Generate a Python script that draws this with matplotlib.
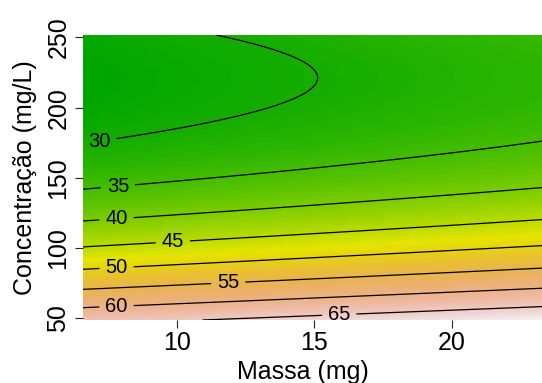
import numpy as np
import matplotlib
matplotlib.use("Agg")
import matplotlib.pyplot as plt
from matplotlib.colors import ListedColormap, hsv_to_rgb

plt.rcParams['font.family'] = ['Liberation Sans', 'DejaVu Sans']

# Modelo de segunda ordem em unidades codificadas:
# xc = (massa - 15) / 5 ; yc = (conc - 150) / 50
b0 = 36.16
b_massa, b_conc = 1.56, -8.71
b_massa2, b_conc2, b_inter = -0.006, 3.06, -0.015

massa_range = [6.577, 23.5]
conc_range = [48.86, 251.64]
contour_levels = [30, 35, 40, 45, 50, 55, 60, 65]
# posição aproximada dos rótulos das curvas (massa, conc)
label_pos = [(7.20, 173.4), (7.85, 143.7), (7.80, 120.0), (9.85, 103.9),
             (7.80, 85.6), (11.87, 74.5), (7.80, 57.6), (15.91, 52.4)]
massa_ticks = [10, 15, 20]
conc_ticks = [50, 100, 150, 200, 250]


def terrain_colors(n):
    """Mesma paleta que terrain.colors() do R."""
    k = n // 2
    h1 = np.linspace(4 / 12, 2 / 12, k)
    s1 = np.linspace(1, 1, k)
    v1 = np.linspace(0.65, 0.9, k)
    h2 = np.linspace(2 / 12, 0, n - k + 1)[1:]
    s2 = np.linspace(1, 0, n - k + 1)[1:]
    v2 = np.linspace(0.9, 0.95, n - k + 1)[1:]
    hsv = np.column_stack([np.r_[h1, h2], np.r_[s1, s2], np.r_[v1, v2]])
    return hsv_to_rgb(hsv)


def resposta(massa, conc):
    xc = (massa - 15) / 5
    yc = (conc - 150) / 50
    return (b0 + b_massa * xc + b_conc * yc + b_massa2 * xc ** 2
            + b_conc2 * yc ** 2 + b_inter * xc * yc)


massa = np.linspace(massa_range[0], massa_range[1], 120)
conc = np.linspace(conc_range[0], conc_range[1], 120)
M, C = np.meshgrid(massa, conc)
Z = resposta(M, C)

fig = plt.figure(figsize=(5.42, 3.83), dpi=100)
W, H = 542, 383
ax = fig.add_axes([83 / W, (H - 320) / H, 464.7 / W, 285 / H])

cmap = ListedColormap(terrain_colors(100))
ax.pcolormesh(M, C, Z, cmap=cmap, vmin=Z.min(), vmax=Z.max(),
              shading='gouraud', rasterized=True)
cs = ax.contour(M, C, Z, levels=contour_levels, colors='black', linewidths=0.9)
labels = ax.clabel(cs, fontsize=14.5, fmt='%d', inline=True,
                   inline_spacing=6, manual=label_pos)
for t in labels:
    t.set_rotation(0)

ax.set_xlim(massa_range)
ax.set_ylim(conc_range)
for s in ax.spines.values():
    s.set_visible(False)

ax.set_xticks(massa_ticks)
ax.set_yticks(conc_ticks)
ax.tick_params(axis='both', length=5.5, width=0.8, labelsize=18, color='#222222')
ax.tick_params(axis='x', pad=2.5)
ax.tick_params(axis='y', pad=3.5)
for lbl in ax.get_yticklabels():
    lbl.set_rotation(90)
    lbl.set_va('center')

ax.set_xlabel('Massa (mg)', fontsize=18)
ax.set_ylabel('Concentração (mg/L)', fontsize=18)
ax.xaxis.set_label_coords((302.5 - 83) / 464.7, -(371.5 - 320) / 285)
ax.yaxis.set_label_coords(-(83 - 25) / 464.7, 0.5)
ax.xaxis.label.set_va('center')
ax.yaxis.label.set_va('center')

fig.savefig('out.png', dpi=100)
